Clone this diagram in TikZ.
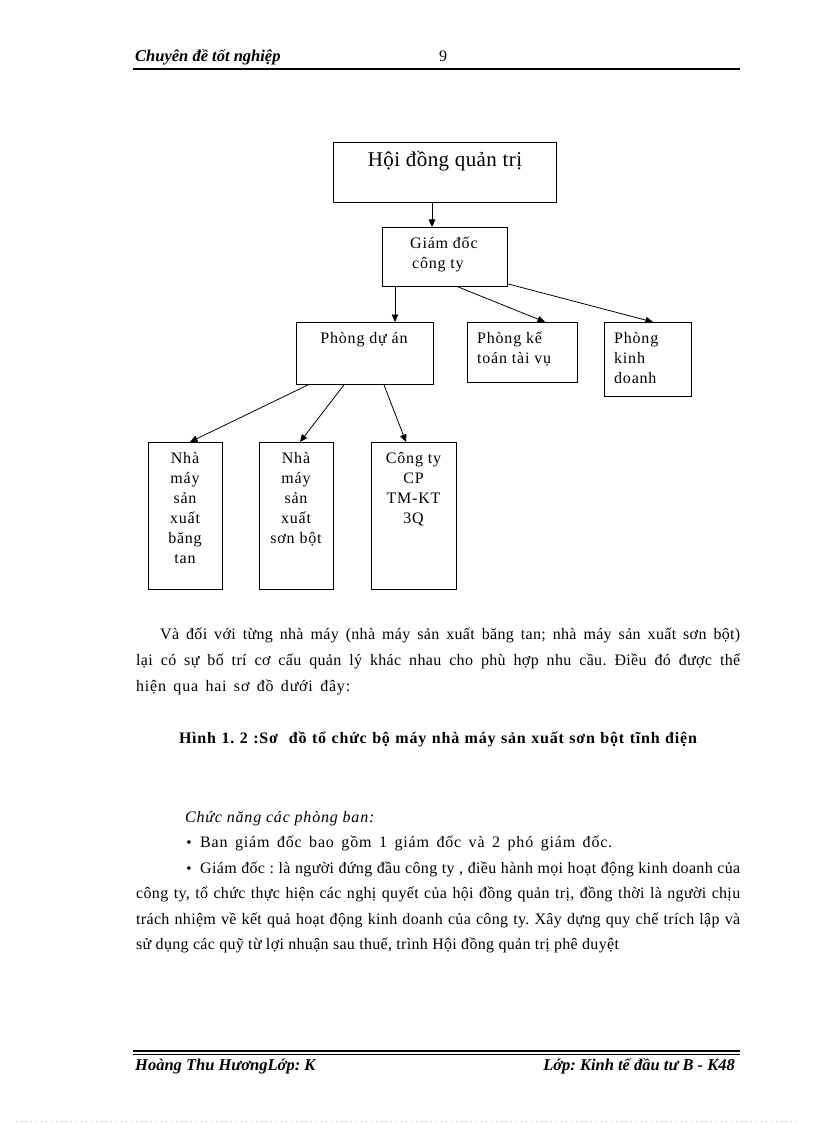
\documentclass[tikz,border=0pt]{standalone}
\usepackage{fontspec}
\setmainfont{Liberation Serif}
\newfontfamily\bodyf[LetterSpace=2]{Liberation Serif}
\newfontfamily\labf[LetterSpace=5]{Liberation Serif}
\newfontfamily\bigf[LetterSpace=2]{Liberation Serif}
\usetikzlibrary{arrows.meta,calc}
\frenchspacing
\begin{document}
\begin{tikzpicture}[x=1pt,y=-1pt,
  box/.style={draw, line width=0.9pt, inner sep=0pt, anchor=north west},
  conn/.style={line width=0.8pt, -{Triangle[length=7.5pt,width=6.5pt]}},
  lbl/.style={inner sep=0pt, anchor=base, font=\labf\fontsize{16}{20}\selectfont},
  lbll/.style={inner sep=0pt, anchor=base west, font=\labf\fontsize{16}{20}\selectfont},
  txt/.style={inner sep=0pt, anchor=base west, font=\bodyf\fontsize{16}{20}\selectfont},
  hdr/.style={inner sep=0pt, font=\bfseries\itshape\fontsize{16.5}{20}\selectfont},
  bul/.style={inner sep=0pt, font=\fontsize{15}{15}\selectfont},
]
\useasboundingbox[fill=white] (0,0) rectangle (816,1123);

% header
\node[hdr, anchor=base west] (htitle) at (135,62) {Chuyên đề tốt nghiệp};
\node[inner sep=0pt, anchor=base, font=\fontsize{16}{20}\selectfont] (hpage) at (443,62) {9};
\draw[line width=1.6pt] (133,69) -- (740,69);

% boxes
\node[box, minimum width=223pt, minimum height=60pt] (hdqt) at (333,142) {};
\node[box, minimum width=125pt, minimum height=59pt] (gd) at (382,227) {};
\node[box, minimum width=137pt, minimum height=62pt] (pda) at (296,322) {};
\node[box, minimum width=110pt, minimum height=60pt] (pkt) at (467,322) {};
\node[box, minimum width=87pt, minimum height=74pt] (pkd) at (604,322) {};
\node[box, minimum width=74pt, minimum height=147pt] (nm1) at (148,442) {};
\node[box, minimum width=74pt, minimum height=147pt] (nm2) at (259,442) {};
\node[box, minimum width=85pt, minimum height=147pt] (ct) at (371,442) {};

% box texts
\node[inner sep=0pt, anchor=base, font=\bigf\fontsize{21}{24}\selectfont] (thdqt) at (445,167) {Hội đồng quản trị};
\node[lbll] (tgd1) at (410,248) {Giám đốc};
\node[lbll] (tgd2) at (412,268) {công ty};
\node[lbl] (tpda) at (364,343) {Phòng dự án};
\node[lbll] (tpkt1) at (477,343) {Phòng kế};
\node[lbll] (tpkt2) at (477,363) {toán tài vụ};
\node[lbll] (tpkd1) at (614,343) {Phòng};
\node[lbll] (tpkd2) at (614,363) {kinh};
\node[lbll] (tpkd3) at (614,383) {doanh};
\node[lbl] (ta1) at (185,463) {Nhà};
\node[lbl] (ta2) at (185,483) {máy};
\node[lbl] (ta3) at (185,503) {sản};
\node[lbl] (ta4) at (185,523) {xuất};
\node[lbl] (ta5) at (185,543) {băng};
\node[lbl] (ta6) at (185,563) {tan};
\node[lbl] (tb1) at (296,463) {Nhà};
\node[lbl] (tb2) at (296,483) {máy};
\node[lbl] (tb3) at (296,503) {sản};
\node[lbl] (tb4) at (296,523) {xuất};
\node[lbl] (tb5) at (296,543) {sơn bột};
\node[lbl] (tc1) at (413.5,463) {Công ty};
\node[lbl] (tc2) at (413.5,483) {CP};
\node[lbl] (tc3) at (413.5,503) {TM-KT};
\node[lbl] (tc4) at (413.5,523) {3Q};

% connectors
\draw[conn] ($(hdqt.south west)+(99,0)$) -- ($(gd.north west)+(50,0)$);
\draw[conn] ($(gd.south west)+(13,0)$) -- ($(pda.north west)+(99,0)$);
\draw[conn] ($(gd.south west)+(76,0)$) -- ($(pkt.north west)+(78,0)$);
\draw[conn] ($(gd.south east)+(0,-3)$) -- ($(pkd.north west)+(49,0)$);
\draw[conn] ($(pda.south west)+(12,0)$) -- ($(nm1.north west)+(42,0)$);
\draw[conn] ($(pda.south west)+(48,0)$) -- ($(nm2.north west)+(41,0)$);
\draw[conn] ($(pda.south west)+(88,0)$) -- ($(ct.north west)+(35,0)$);

% body paragraph
\node[txt] (p1) at (160,639) {\makebox[580pt][s]{Và đối với từng nhà máy (nhà máy sản xuất băng tan; nhà máy sản xuất sơn bột)}};
\node[txt] (p2) at (136,665) {\makebox[604pt][s]{lại có sự bố trí cơ cấu quản lý khác nhau cho phù hợp nhu cầu. Điều đó được thể}};
\node[txt, font=\labf\fontsize{16}{20}\selectfont] (p3) at (136,691) {\makebox[214pt][s]{hiện qua hai sơ đồ dưới đây:}};

% caption
\node[inner sep=0pt, anchor=base, font=\labf\bfseries\fontsize{16}{20}\selectfont] (cap) at (438,743) {\makebox[518pt][s]{Hình 1. 2 :Sơ\ \ đồ tổ chức bộ máy nhà máy sản xuất sơn bột tĩnh điện}};

% functions
\node[txt, font=\labf\itshape\fontsize{16}{20}\selectfont] (chn) at (185,822) {Chức năng các phòng ban:};
\node[bul] (bul1) at (189,844) {•};
\node[txt, font=\labf\fontsize{16}{20}\selectfont] (q1) at (200,847) {\makebox[412pt][s]{Ban giám đốc bao gồm 1 giám đốc và 2 phó giám đốc.}};
\node[bul] (bul2) at (189,870) {•};
\node[txt] (q2) at (200,873) {\makebox[540pt][s]{Giám đốc : là người đứng đầu công ty , điều hành mọi hoạt động kinh doanh của}};
\node[txt] (q3) at (136,898) {\makebox[604pt][s]{công ty, tổ chức thực hiện các nghị quyết của hội đồng quản trị, đồng thời là người chịu}};
\node[txt] (q4) at (136,924) {\makebox[604pt][s]{trách nhiệm về kết quả hoạt động kinh doanh của công ty. Xây dựng quy chế trích lập và}};
\node[txt] (q5) at (136,949) {sử dụng các quỹ từ lợi nhuận sau thuế, trình Hội đồng quản trị phê duyệt};

% footer
\draw[line width=1.5pt] (133,1051) -- (740,1051);
\draw[line width=0.7pt] (133,1054.5) -- (740,1054.5);
\node[hdr, anchor=base west] (ft1) at (135,1070) {Hoàng Thu HươngLớp: K};
\node[hdr, anchor=base east] (ft2) at (735,1070) {Lớp: Kinh tế đầu tư B - K48};
\draw[gray!60, line width=0.5pt, dash pattern=on 0.7pt off 4.3pt] (16,1121) -- (800,1121);
\end{tikzpicture}
\end{document}
